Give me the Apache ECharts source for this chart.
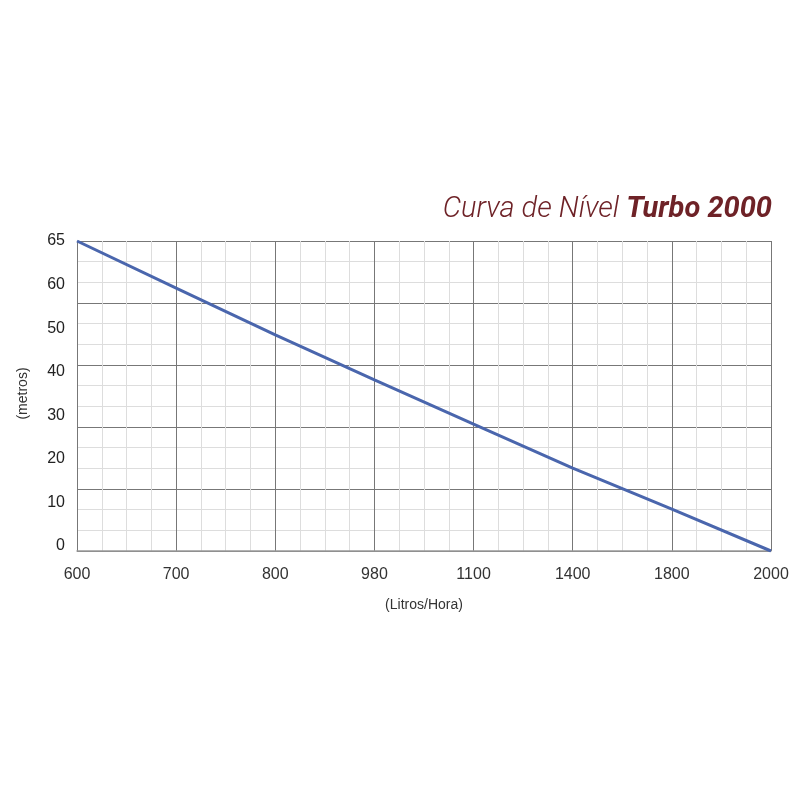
<!DOCTYPE html>
<html>
<head>
    <meta charset="utf-8">
    <title>Curva de Nível Turbo 2000</title>
    <script src="https://cdn.jsdelivr.net/npm/echarts@6/dist/echarts.min.js"></script>
</head>
<body style="margin: 0; background: #fff">
<div id="container" style="width: 800px; height: 800px"></div>
<script>
    // vazão (Litros/Hora) - eixo x, colunas igualmente espaçadas
    var xLabels = ['600', '700', '800', '980', '1100', '1400', '1800', '2000'];
    var alturas = [65, 55.1, 45.3, 35.9, 26.6, 17.4, 8.8, 0];
    // rótulos do eixo y (como aparecem, de baixo para cima)
    var yLabels = ['0', '10', '20', '30', '40', '50', '60', '65'];

    var myChart = echarts.init(document.getElementById('container'));

    var pontos = [];
    for (var i = 0; i < alturas.length; i++) {
        pontos.push([i, alturas[i]]);
    }

    var option = {
        backgroundColor: '#fff',
        animation: false,
        title: {
            right: 23,
            top: 190,
            text: '{a|Curva de Nível }{b|Turbo 2000}',
            textStyle: {
                rich: {
                    a: {
                        fontFamily: 'Roboto',
                        fontStyle: 'italic',
                        fontWeight: 300,
                        fontSize: 29,
                        color: '#6e2227'
                    },
                    b: {
                        fontFamily: 'Roboto',
                        fontStyle: 'italic',
                        fontWeight: 'bold',
                        fontSize: 29,
                        color: '#6e2227'
                    }
                }
            }
        },
        grid: [
            {left: 77, right: 29, top: 241, bottom: 249},
            // só para os rótulos do eixo y
            {left: 77, right: 29, top: 241, bottom: 254}
        ],
        xAxis: [
            {
                type: 'value',
                gridIndex: 0,
                min: 0,
                max: 7,
                interval: 1,
                name: '(Litros/Hora)',
                nameLocation: 'middle',
                nameGap: 47,
                nameTextStyle: {color: '#333', fontSize: 14, fontFamily: 'Liberation Sans'},
                axisLine: {show: true, lineStyle: {color: '#999', width: 1.5}},
                axisTick: {show: false},
                axisLabel: {
                    margin: 16,
                    color: '#333',
                    fontSize: 16,
                    fontFamily: 'Liberation Sans',
                    formatter: function (v) { return xLabels[v]; }
                },
                splitLine: {show: true, lineStyle: {color: '#777', width: 1}},
                minorTick: {show: false, splitNumber: 4},
                minorSplitLine: {show: true, lineStyle: {color: '#ddd', width: 1}}
            },
            {
                type: 'value',
                gridIndex: 1,
                min: 0,
                max: 1,
                show: false
            }
        ],
        yAxis: [
            {
                type: 'value',
                gridIndex: 0,
                min: 0,
                max: 65,
                interval: 13,
                axisLine: {show: false},
                axisTick: {show: false},
                axisLabel: {show: false},
                splitLine: {show: true, lineStyle: {color: '#777', width: 1}},
                minorTick: {show: false, splitNumber: 3},
                minorSplitLine: {show: true, lineStyle: {color: '#ddd', width: 1}}
            },
            {
                type: 'value',
                gridIndex: 1,
                min: 0,
                max: 7,
                interval: 1,
                name: '(metros)',
                nameLocation: 'middle',
                nameGap: 47,
                nameRotate: 90,
                nameTextStyle: {color: '#333', fontSize: 14, fontFamily: 'Liberation Sans'},
                axisLine: {show: false},
                axisTick: {show: false},
                splitLine: {show: false},
                axisLabel: {
                    margin: 12,
                    color: '#222',
                    fontSize: 16,
                    fontFamily: 'Liberation Sans',
                    formatter: function (v) { return yLabels[v]; }
                }
            }
        ],
        series: [
            {
                type: 'line',
                xAxisIndex: 0,
                yAxisIndex: 0,
                data: pontos,
                showSymbol: false,
                lineStyle: {color: '#4a66ad', width: 3}
            }
        ]
    };

    myChart.setOption(option);
</script>
</body>
</html>
